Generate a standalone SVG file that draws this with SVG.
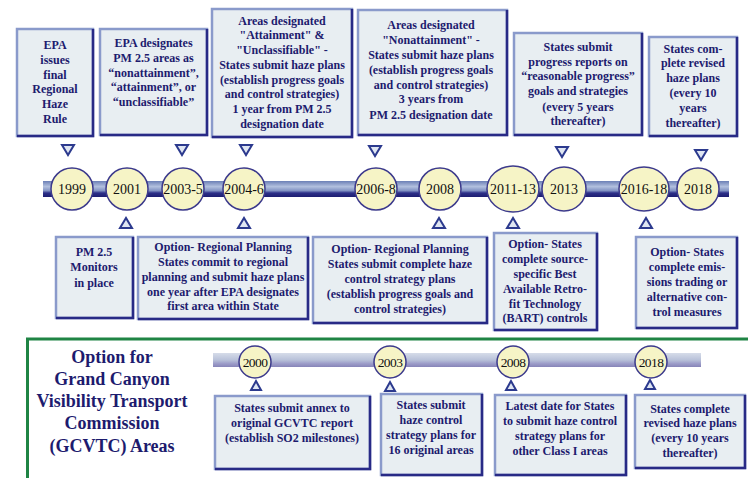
<svg xmlns="http://www.w3.org/2000/svg" xmlns:xlink="http://www.w3.org/1999/xlink" width="748" height="478" viewBox="0 0 748 478">
<defs>
<linearGradient id="bar1" x1="0" y1="0" x2="0" y2="1">
<stop offset="0" stop-color="#6b7fb6"/>
<stop offset="0.35" stop-color="#b2c0de"/>
<stop offset="0.6" stop-color="#8293c4"/>
<stop offset="0.75" stop-color="#2c2f88"/>
<stop offset="1" stop-color="#1d1d72"/>
</linearGradient>
<linearGradient id="bar2" x1="0" y1="0" x2="0" y2="1">
<stop offset="0" stop-color="#d6dce9"/>
<stop offset="0.5" stop-color="#b8c1d9"/>
<stop offset="0.75" stop-color="#9d9dc9"/>
<stop offset="1" stop-color="#8684b8"/>
</linearGradient>
<path id="td" d="M-6,0 L6,0 L0,10 Z"/>
<path id="tu" d="M-6,10 L6,10 L0,0 Z"/>
<path id="tus" d="M-5,9 L5,9 L0,0 Z"/>
</defs>
<style>
.box{fill:#e8eef2;stroke:#8a9acb;stroke-width:2.5}
.sh{fill:none;stroke:#282a86;stroke-width:2.5}
.t{font-family:"Liberation Serif",serif;font-weight:bold;font-size:12px;fill:#1d1b6e;text-anchor:middle}
.ttl{font-family:"Liberation Serif",serif;font-weight:bold;font-size:18px;fill:#1d1b6e;text-anchor:middle}
.yr{font-family:"Liberation Serif",serif;font-size:14px;fill:#111;text-anchor:middle}
.yr2{font-family:"Liberation Serif",serif;font-size:13.5px;fill:#111;text-anchor:middle;letter-spacing:-0.6px}
.dot{fill:#f6f4c6;stroke:#3c3a8c;stroke-width:1.5}
.tri{fill:#dfe6f2;stroke:#2c3a8e;stroke-width:2}
</style>
<rect width="748" height="478" fill="#ffffff"/>

<g id="connectors">
<rect x="43" y="181" width="686" height="16" fill="url(#bar1)"/>
<rect x="213" y="353" width="488" height="14" fill="url(#bar2)"/>
<use href="#td" x="68" y="145" class="tri"/>
<use href="#td" x="182" y="145" class="tri"/>
<use href="#td" x="246" y="145" class="tri"/>
<use href="#td" x="375" y="146" class="tri"/>
<use href="#td" x="562" y="147" class="tri"/>
<use href="#td" x="701" y="150" class="tri"/>
<use href="#tu" x="126" y="218" class="tri"/>
<use href="#tu" x="244" y="218" class="tri"/>
<use href="#tu" x="439" y="218" class="tri"/>
<use href="#tu" x="513" y="218" class="tri"/>
<use href="#tu" x="646" y="218" class="tri"/>
<use href="#tus" x="256" y="381" class="tri"/>
<use href="#tus" x="390" y="382" class="tri"/>
<use href="#tus" x="511" y="381" class="tri"/>
<use href="#tus" x="650" y="380" class="tri"/>
</g>

<g id="frame">
<path d="M27.5,478 V339 H748" fill="none" stroke="#1f8444" stroke-width="3"/>
</g>

<g id="n-1999"><circle cx="72" cy="189" r="21" class="dot"/><text x="72" y="194" class="yr">1999</text></g>
<g id="n-2001"><circle cx="127" cy="189" r="21" class="dot"/><text x="127" y="194" class="yr">2001</text></g>
<g id="n-2003-5"><circle cx="183" cy="189" r="21" class="dot"/><text x="183" y="194" class="yr">2003-5</text></g>
<g id="n-2004-6"><circle cx="244" cy="189" r="21" class="dot"/><text x="244" y="194" class="yr">2004-6</text></g>
<g id="n-2006-8"><circle cx="376" cy="189" r="21" class="dot"/><text x="376" y="194" class="yr">2006-8</text></g>
<g id="n-2008"><circle cx="440" cy="189" r="21" class="dot"/><text x="440" y="194" class="yr">2008</text></g>
<g id="n-2011-13"><ellipse cx="513" cy="189" rx="26" ry="23" class="dot"/><text x="513" y="194" class="yr">2011-13</text></g>
<g id="n-2013"><circle cx="564" cy="189" r="22" class="dot"/><text x="564" y="194" class="yr">2013</text></g>
<g id="n-2016-18"><ellipse cx="644" cy="189" rx="25" ry="22" class="dot"/><text x="644" y="194" class="yr">2016-18</text></g>
<g id="n-2018"><circle cx="698" cy="189" r="21" class="dot"/><text x="698" y="194" class="yr">2018</text></g>

<g id="g-2000"><circle cx="255" cy="362" r="16" class="dot"/><text x="255" y="367" class="yr2">2000</text></g>
<g id="g-2003"><circle cx="390" cy="362" r="16" class="dot"/><text x="390" y="367" class="yr2">2003</text></g>
<g id="g-2008"><circle cx="513" cy="362" r="16" class="dot"/><text x="513" y="367" class="yr2">2008</text></g>
<g id="g-2018"><circle cx="651" cy="362" r="16" class="dot"/><text x="651" y="367" class="yr2">2018</text></g>

<g id="box-top1">
<rect x="17" y="29" width="76" height="107" class="box"/><path d="M93,29 V136 H17" class="sh"/>
<text class="t"><tspan x="55" y="49">EPA</tspan><tspan x="55" y="64">issues</tspan><tspan x="55" y="79">final</tspan><tspan x="55" y="93">Regional</tspan><tspan x="55" y="108">Haze</tspan><tspan x="55" y="123">Rule</tspan></text>
</g>
<g id="box-top2">
<rect x="100" y="29" width="107" height="106" class="box"/><path d="M207,29 V135 H100" class="sh"/>
<text class="t"><tspan x="153.5" y="47">EPA designates</tspan><tspan x="153.5" y="62">PM 2.5 areas as</tspan><tspan x="153.5" y="77">“nonattainment”,</tspan><tspan x="153.5" y="91">“attainment”, or</tspan><tspan x="153.5" y="106">“unclassifiable”</tspan></text>
</g>
<g id="box-top3">
<rect x="212" y="9" width="140" height="128" class="box"/><path d="M352,9 V137 H212" class="sh"/>
<text class="t"><tspan x="282" y="25">Areas designated</tspan><tspan x="282" y="39">"Attainment" &amp;</tspan><tspan x="282" y="54">"Unclassifiable" -</tspan><tspan x="282" y="69">States submit haze plans</tspan><tspan x="282" y="84">(establish progress goals</tspan><tspan x="282" y="98">and control strategies)</tspan><tspan x="282" y="113">1 year from PM 2.5</tspan><tspan x="282" y="128">designation date</tspan></text>
</g>
<g id="box-top4">
<rect x="358" y="10" width="149" height="125" class="box"/><path d="M507,10 V135 H358" class="sh"/>
<text class="t"><tspan x="431" y="29">Areas designated</tspan><tspan x="431" y="44">"Nonattainment" -</tspan><tspan x="431" y="59">States submit haze plans</tspan><tspan x="431" y="74">(establish progress goals</tspan><tspan x="431" y="89">and control strategies)</tspan><tspan x="431" y="103">3 years from</tspan><tspan x="431" y="119">PM 2.5 designation date</tspan></text>
</g>
<g id="box-top5">
<rect x="514" y="33" width="128" height="102" class="box"/><path d="M642,33 V135 H514" class="sh"/>
<text class="t"><tspan x="578" y="51">States submit</tspan><tspan x="578" y="66">progress reports on</tspan><tspan x="578" y="80">“reasonable progress”</tspan><tspan x="578" y="95">goals and strategies</tspan><tspan x="578" y="111">(every 5 years</tspan><tspan x="578" y="125">thereafter)</tspan></text>
</g>
<g id="box-top6">
<rect x="649" y="37" width="88" height="99" class="box"/><path d="M737,37 V136 H649" class="sh"/>
<text class="t"><tspan x="693" y="53">States com-</tspan><tspan x="693" y="67">plete revised</tspan><tspan x="693" y="82">haze plans</tspan><tspan x="693" y="97">(every 10</tspan><tspan x="693" y="112">years</tspan><tspan x="693" y="127">thereafter)</tspan></text>
</g>

<g id="box-bot1">
<rect x="56" y="237" width="77" height="81" class="box"/><path d="M133,237 V318 H56" class="sh"/>
<text class="t"><tspan x="94" y="256">PM 2.5</tspan><tspan x="94" y="271">Monitors</tspan><tspan x="94" y="287">in place</tspan></text>
</g>
<g id="box-bot2">
<rect x="138" y="237" width="170" height="82" class="box"/><path d="M308,237 V319 H138" class="sh"/>
<text class="t"><tspan x="223" y="251">Option- Regional Planning</tspan><tspan x="223" y="266">States commit to regional</tspan><tspan x="223" y="281">planning and submit haze plans</tspan><tspan x="223" y="296">one year after EPA designates</tspan><tspan x="223" y="310">first area within State</tspan></text>
</g>
<g id="box-bot3">
<rect x="313" y="237" width="174" height="86" class="box"/><path d="M487,237 V323 H313" class="sh"/>
<text class="t"><tspan x="400" y="253">Option- Regional Planning</tspan><tspan x="400" y="268">States submit complete haze</tspan><tspan x="400" y="283">control strategy plans</tspan><tspan x="400" y="298">(establish progress goals and</tspan><tspan x="400" y="313">control strategies)</tspan></text>
</g>
<g id="box-bot4">
<rect x="494" y="233" width="103" height="97" class="box"/><path d="M597,233 V330 H494" class="sh"/>
<text class="t"><tspan x="545" y="248">Option- States</tspan><tspan x="545" y="263">complete source-</tspan><tspan x="545" y="278">specific Best</tspan><tspan x="545" y="293">Available Retro-</tspan><tspan x="545" y="308">fit Technology</tspan><tspan x="545" y="322">(BART) controls</tspan></text>
</g>
<g id="box-bot5">
<rect x="636" y="237" width="101" height="91" class="box"/><path d="M737,237 V328 H636" class="sh"/>
<text class="t"><tspan x="687" y="256">Option- States</tspan><tspan x="687" y="271">complete emis-</tspan><tspan x="687" y="286">sions trading or</tspan><tspan x="687" y="301">alternative con-</tspan><tspan x="687" y="316">trol measures</tspan></text>
</g>

<g id="gcvtc-title">
<text class="ttl"><tspan x="112" y="363">Option for</tspan><tspan x="112" y="385">Grand Canyon</tspan><tspan x="112" y="407">Visibility Transport</tspan><tspan x="112" y="429">Commission</tspan><tspan x="112" y="452">(GCVTC) Areas</tspan></text>
</g>

<g id="box-g1">
<rect x="215" y="396" width="155" height="73" class="box"/><path d="M370,396 V469 H215" class="sh"/>
<text class="t"><tspan x="292" y="412">States submit annex to</tspan><tspan x="292" y="427">original GCVTC report</tspan><tspan x="292" y="442">(establish SO2 milestones)</tspan></text>
</g>
<g id="box-g2">
<rect x="381" y="394" width="101" height="81" class="box"/><path d="M482,394 V475 H381" class="sh"/>
<text class="t"><tspan x="431" y="409">States submit</tspan><tspan x="431" y="424">haze control</tspan><tspan x="431" y="439">strategy plans for</tspan><tspan x="431" y="454">16 original areas</tspan></text>
</g>
<g id="box-g3">
<rect x="495" y="395" width="131" height="80" class="box"/><path d="M626,395 V475 H495" class="sh"/>
<text class="t"><tspan x="560" y="410">Latest date for States</tspan><tspan x="560" y="425">to submit haze control</tspan><tspan x="560" y="440">strategy plans for</tspan><tspan x="560" y="455">other Class I areas</tspan></text>
</g>
<g id="box-g4">
<rect x="635" y="395" width="110" height="73" class="box"/><path d="M745,395 V468 H635" class="sh"/>
<text class="t"><tspan x="690" y="413">States complete</tspan><tspan x="690" y="427">revised haze plans</tspan><tspan x="690" y="442">(every 10 years</tspan><tspan x="690" y="457">thereafter)</tspan></text>
</g>
</svg>
